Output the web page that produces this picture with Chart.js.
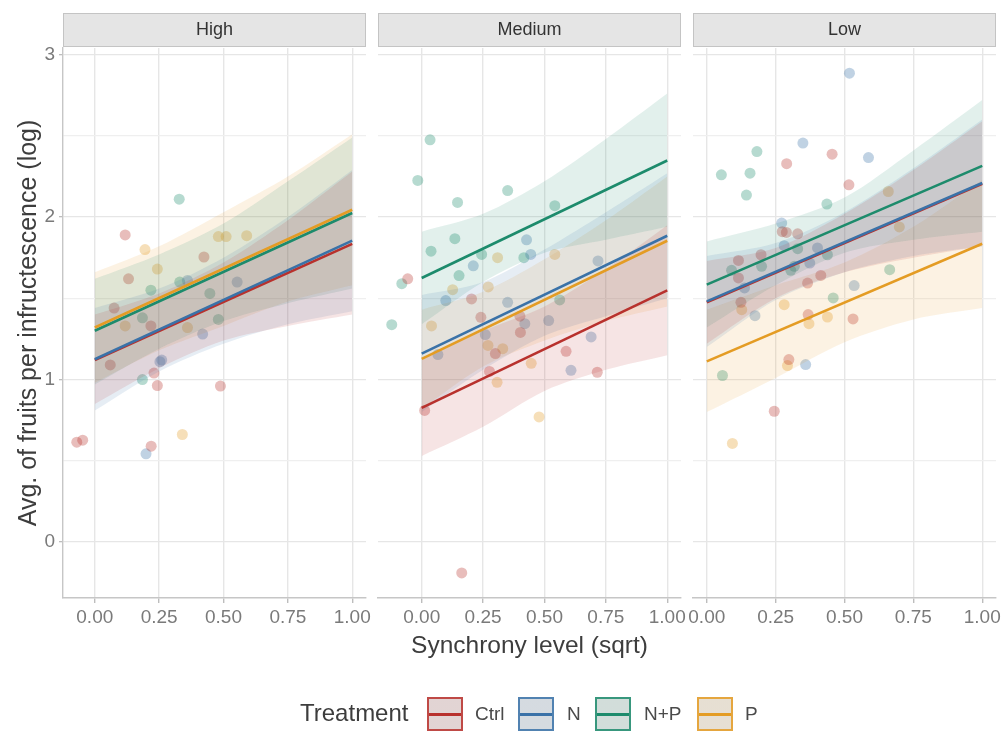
<!DOCTYPE html>
<html>
<head>
<meta charset="utf-8">
<title>Fruits per infructescence vs synchrony</title>
<script src="https://cdn.jsdelivr.net/npm/chart.js@4.4.1/dist/chart.umd.min.js"></script>
<style>
    body { margin: 0; background: #fff; font-family: 'Liberation Sans', Arial, sans-serif; }
    #wrap { position: relative; width: 1004px; height: 731px; overflow: hidden; }
    #wrap canvas { position: absolute; left: 0; top: 0; }
    .legend-title { position: absolute; left: 300px; top: 699px; font-size: 24px; color: #3d3d3d; }
    .legend-key { position: absolute; top: 697px; width: 36px; height: 34px; box-sizing: border-box; border: 2px solid; }
    .legend-key i { position: absolute; left: 0; right: 0; top: 14px; height: 3px; }
    .legend-label { position: absolute; top: 703px; font-size: 19px; color: #4a4a4a; }
</style>
</head>
<body>
<div id="wrap">
    <canvas id="high" width="1004" height="731"></canvas>
    <canvas id="medium" width="1004" height="731"></canvas>
    <canvas id="low" width="1004" height="731"></canvas>
    <div id="legend"></div>
</div>
<script>
// ---- data ----
const treatments = ['Ctrl', 'N', 'N+P', 'P'];
const facets = ['High', 'Medium', 'Low'];
const xTicks = [0, 0.25, 0.5, 0.75, 1];
const yTicks = [0, 0.5, 1, 1.5, 2, 2.5, 3];
const bandX = [0, 0.25, 0.5, 0.75, 1];

// observed points [synchrony, fruits]
const highCtrl = [[0.118, 1.89], [0.424, 1.754], [0.131, 1.62], [0.075, 1.44], [0.218, 1.33], [0.06, 1.09], [0.23, 1.04], [0.243, 0.963], [0.488, 0.96], [-0.07, 0.615], [-0.047, 0.627], [0.219, 0.59]];
const highN = [[0.36, 1.61], [0.553, 1.60], [0.419, 1.28], [0.253, 1.11], [0.26, 1.12], [0.199, 0.543]];
const highNP = [[0.328, 2.11], [0.33, 1.60], [0.218, 1.55], [0.447, 1.53], [0.185, 1.38], [0.48, 1.37], [0.185, 1.00]];
const highP = [[0.195, 1.80], [0.48, 1.88], [0.51, 1.88], [0.59, 1.885], [0.243, 1.68], [0.118, 1.33], [0.36, 1.32], [0.34, 0.662]];

const medCtrl = [[-0.057, 1.62], [0.203, 1.496], [0.241, 1.383], [0.40, 1.39], [0.402, 1.29], [0.30, 1.16], [0.588, 1.174], [0.276, 1.05], [0.715, 1.045], [0.012, 0.81], [0.163, -0.19]];
const medN = [[0.427, 1.86], [0.444, 1.77], [0.21, 1.70], [0.718, 1.73], [0.098, 1.486], [0.35, 1.475], [0.42, 1.344], [0.517, 1.363], [0.066, 1.154], [0.259, 1.277], [0.608, 1.057], [0.69, 1.262]];
const medNP = [[0.034, 2.475], [-0.016, 2.225], [0.35, 2.163], [0.146, 2.09], [0.542, 2.07], [0.135, 1.867], [0.038, 1.79], [0.244, 1.77], [0.416, 1.75], [0.152, 1.64], [-0.081, 1.59], [0.562, 1.49], [-0.122, 1.338]];
const medP = [[0.309, 1.75], [0.542, 1.77], [0.126, 1.553], [0.271, 1.57], [0.04, 1.33], [0.27, 1.21], [0.33, 1.19], [0.446, 1.10], [0.307, 0.983], [0.478, 0.77]];

const lowCtrl = [[0.455, 2.387], [0.29, 2.328], [0.516, 2.198], [0.274, 1.91], [0.289, 1.905], [0.33, 1.897], [0.197, 1.768], [0.115, 1.733], [0.115, 1.625], [0.414, 1.641], [0.366, 1.594], [0.124, 1.475], [0.368, 1.40], [0.531, 1.373], [0.298, 1.123], [0.245, 0.805]];
const lowN = [[0.518, 2.885], [0.349, 2.455], [0.587, 2.366], [0.272, 1.963], [0.281, 1.824], [0.402, 1.81], [0.374, 1.717], [0.137, 1.564], [0.535, 1.578], [0.175, 1.393], [0.359, 1.092]];
const lowNP = [[0.182, 2.403], [0.053, 2.26], [0.157, 2.27], [0.144, 2.135], [0.436, 2.08], [0.33, 1.805], [0.438, 1.768], [0.199, 1.697], [0.318, 1.697], [0.305, 1.672], [0.09, 1.672], [0.459, 1.502], [0.664, 1.676], [0.057, 1.025]];
const lowP = [[0.659, 2.157], [0.699, 1.939], [0.127, 1.43], [0.281, 1.461], [0.371, 1.344], [0.438, 1.385], [0.293, 1.086], [0.093, 0.607]];

// fitted lines at x = 0 and x = 1 (Ctrl, N, N+P, P)
const highFit0 = [1.12, 1.125, 1.30, 1.32];
const highFit1 = [1.835, 1.855, 2.025, 2.045];
const medFit0 = [0.826, 1.16, 1.625, 1.127];
const medFit1 = [1.549, 1.885, 2.348, 1.854];
const lowFit0 = [1.475, 1.481, 1.584, 1.112];
const lowFit1 = [2.205, 2.209, 2.315, 1.836];

// confidence band edges at bandX (Ctrl, N, N+P, P)
const highLower = [[0.85, 1.07, 1.24, 1.33, 1.40], [0.81, 1.05, 1.22, 1.34, 1.42], [0.97, 1.19, 1.36, 1.47, 1.56], [0.98, 1.18, 1.33, 1.48, 1.58]];
const highUpper = [[1.40, 1.53, 1.72, 1.98, 2.28], [1.44, 1.56, 1.75, 2.00, 2.29], [1.62, 1.77, 1.96, 2.22, 2.49], [1.66, 1.82, 2.03, 2.25, 2.51]];
const medLower = [[0.53, 0.71, 0.93, 1.06, 1.15], [0.80, 1.06, 1.27, 1.39, 1.50], [1.34, 1.60, 1.78, 1.86, 1.94], [0.82, 1.08, 1.24, 1.36, 1.45]];
const medUpper = [[1.12, 1.30, 1.45, 1.68, 1.95], [1.52, 1.60, 1.80, 2.03, 2.27], [1.91, 2.02, 2.22, 2.48, 2.76], [1.43, 1.54, 1.74, 1.98, 2.25]];
const lowLower = [[1.22, 1.50, 1.66, 1.75, 1.82], [1.20, 1.49, 1.66, 1.76, 1.82], [1.32, 1.58, 1.78, 1.86, 1.91], [0.80, 1.01, 1.23, 1.37, 1.44]];
const lowUpper = [[1.73, 1.81, 2.02, 2.29, 2.59], [1.76, 1.84, 2.03, 2.30, 2.60], [1.85, 1.96, 2.12, 2.41, 2.72], [1.43, 1.58, 1.72, 1.94, 2.23]];

// ---- styling ----
const fontFamily = "'Liberation Sans', Arial, sans-serif";
const treatColors = ['#B8312D', '#3A72A8', '#1D8B6C', '#E49C24'];

function rgba(hex, a) {
    const n = parseInt(hex.slice(1), 16);
    return `rgba(${(n >> 16) & 255}, ${(n >> 8) & 255}, ${n & 255}, ${a})`;
}

// grey facet strip above each panel
const stripPlugin = {
    id: 'strip',
    afterDraw(chart, args, opts) {
        const { ctx, chartArea } = chart;
        const w = chartArea.right - chartArea.left;
        ctx.save();
        ctx.fillStyle = '#e5e5e5';
        ctx.fillRect(chartArea.left, 13, w, 34);
        ctx.strokeStyle = '#c4c4c4';
        ctx.lineWidth = 1;
        ctx.strokeRect(chartArea.left + 0.5, 13.5, w - 1, 33);
        ctx.fillStyle = '#333';
        ctx.font = '18px ' + fontFamily;
        ctx.textAlign = 'center';
        ctx.textBaseline = 'middle';
        ctx.fillText(opts.label, chartArea.left + w / 2, 30.5);
        ctx.restore();
    }
};

function makePanel(id, cfg) {
    const datasets = [];
    // points (bottom)
    cfg.points.forEach((pts, i) => {
        datasets.push({
            label: treatments[i],
            data: pts.map(p => ({ x: p[0], y: p[1] })),
            showLine: false,
            pointRadius: 5.5,
            pointBorderWidth: 0,
            pointBackgroundColor: rgba(treatColors[i], 0.32),
            order: 3
        });
    });
    // confidence ribbons
    treatments.forEach((t, i) => {
        const lowIdx = datasets.length;
        datasets.push({
            data: bandX.map((x, j) => ({ x: x, y: cfg.lower[i][j] })),
            borderWidth: 0,
            pointRadius: 0,
            tension: 0.3,
            fill: false,
            order: 2
        });
        datasets.push({
            data: bandX.map((x, j) => ({ x: x, y: cfg.upper[i][j] })),
            borderWidth: 0,
            pointRadius: 0,
            tension: 0.3,
            fill: { target: lowIdx },
            backgroundColor: rgba(treatColors[i], 0.13),
            order: 2
        });
    });
    // regression lines (top)
    treatments.forEach((t, i) => {
        datasets.push({
            data: [{ x: 0, y: cfg.fit0[i] }, { x: 1, y: cfg.fit1[i] }],
            borderColor: treatColors[i],
            borderWidth: 2.6,
            pointRadius: 0,
            fill: false,
            order: 1 - i * 0.1
        });
    });

    const tickFont = { family: fontFamily, size: 19 };

    new Chart(document.getElementById(id), {
        type: 'line',
        data: { datasets: datasets },
        options: {
            responsive: false,
            animation: false,
            devicePixelRatio: 1,
            layout: { padding: { left: cfg.padLeft, right: cfg.padRight, top: 48, bottom: 51 } },
            plugins: {
                legend: { display: false },
                tooltip: { enabled: false },
                strip: { label: cfg.label }
            },
            scales: {
                x: {
                    type: 'linear',
                    min: cfg.xMin,
                    max: cfg.xMax,
                    afterBuildTicks: s => { s.ticks = xTicks.map(v => ({ value: v })); },
                    afterFit: s => { s.height = 82; s.paddingLeft = 0; s.paddingRight = 0; },
                    ticks: {
                        autoSkip: false,
                        maxRotation: 0,
                        padding: 3,
                        color: '#7a7a7a',
                        font: tickFont,
                        callback: v => Number(v).toFixed(2)
                    },
                    grid: { color: '#e6e6e6', lineWidth: 1.4, tickLength: 5, tickColor: '#bdbdbd' },
                    border: { display: true, color: '#c6c6c6', width: 1.4 },
                    title: {
                        display: !!cfg.xTitle,
                        text: cfg.xTitle || '',
                        color: '#3d3d3d',
                        font: { family: fontFamily, size: 24.5 },
                        padding: { top: 0, bottom: 19 }
                    }
                },
                y: {
                    min: -0.344,
                    max: 3.04,
                    afterBuildTicks: s => { s.ticks = yTicks.map(v => ({ value: v })); },
                    afterFit: s => { s.width = cfg.showY ? 63 : 0; },
                    ticks: {
                        display: cfg.showY,
                        padding: 4,
                        color: '#7a7a7a',
                        font: tickFont,
                        callback: v => Number.isInteger(v) ? String(v) : ''
                    },
                    grid: {
                        color: c => Number.isInteger(c.tick.value) ? '#e6e6e6' : '#efefef',
                        lineWidth: 1.3,
                        drawTicks: cfg.showY,
                        tickLength: 4,
                        tickColor: c => Number.isInteger(c.tick.value) ? '#bdbdbd' : 'rgba(0,0,0,0)'
                    },
                    border: { display: cfg.showY, color: '#c6c6c6', width: 1.4 },
                    title: {
                        display: cfg.showY,
                        text: 'Avg. of fruits per infructescence (log)',
                        color: '#3d3d3d',
                        font: { family: fontFamily, size: 25 },
                        padding: { top: 14, bottom: 0 }
                    }
                }
            }
        },
        plugins: [stripPlugin]
    });
}

makePanel('high', {
    label: facets[0], points: [highCtrl, highN, highNP, highP],
    fit0: highFit0, fit1: highFit1, lower: highLower, upper: highUpper,
    xMin: -0.1235, xMax: 1.0535, padLeft: 0, padRight: 638, showY: true
});
makePanel('medium', {
    label: facets[1], points: [medCtrl, medN, medNP, medP],
    fit0: medFit0, fit1: medFit1, lower: medLower, upper: medUpper,
    xMin: -0.178, xMax: 1.056, padLeft: 378, padRight: 323, showY: false,
    xTitle: 'Synchrony level (sqrt)'
});
makePanel('low', {
    label: facets[2], points: [lowCtrl, lowN, lowNP, lowP],
    fit0: lowFit0, fit1: lowFit1, lower: lowLower, upper: lowUpper,
    xMin: -0.05, xMax: 1.05, padLeft: 693, padRight: 8, showY: false
});

// Legend (HTML)
const legend = document.getElementById('legend');
const keyLeft = [427, 518, 595, 697];
const labelLeft = [475, 567, 644, 745];
legend.innerHTML = '<span class="legend-title">Treatment</span>';
treatments.forEach((t, i) => {
    const key = document.createElement('div');
    key.className = 'legend-key';
    key.style.left = keyLeft[i] + 'px';
    key.style.borderColor = rgba(treatColors[i], 0.85);
    key.style.background = `linear-gradient(${rgba(treatColors[i], 0.1)}, ${rgba(treatColors[i], 0.1)}), #e6e6e6`;
    key.innerHTML = `<i style="background:${treatColors[i]}"></i>`;
    legend.appendChild(key);
    const lab = document.createElement('span');
    lab.className = 'legend-label';
    lab.style.left = labelLeft[i] + 'px';
    lab.textContent = t;
    legend.appendChild(lab);
});
</script>
</body>
</html>
